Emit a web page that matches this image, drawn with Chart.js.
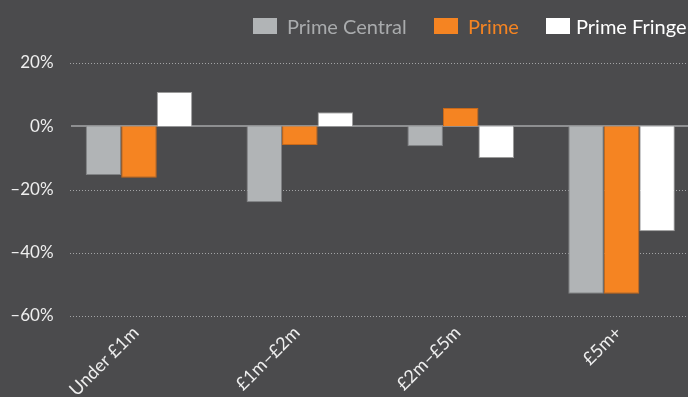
<!DOCTYPE html>
<html>
<head>
<meta charset="utf-8">
<script src="https://cdn.jsdelivr.net/npm/chart.js@4/dist/chart.umd.min.js"></script>
<style>
  html, body { margin: 0; padding: 0; background: #4b4b4d; overflow: hidden; }
  #wrap { position: relative; width: 688px; height: 397px; overflow: hidden; }
  #box { position: absolute; left: 0; top: 0; width: 702px; height: 397px; }
  .leg { position: absolute; top: 0; font: 20px Lato, sans-serif; line-height: 20px; white-space: nowrap; }
  .leg i { position: absolute; top: 18px; width: 24px; height: 16px; }
  .leg span { position: absolute; top: 16px; }
</style>
</head>
<body>
<div id="wrap">
  <div id="box"><canvas id="chart"></canvas></div>
  <div id="legend"></div>
</div>
<script>
// price bands
const bands = ["Under £1m", "£1m–£2m", "£2m–£5m", "£5m+"];

// annual change, %
const primeCentral = [-15.4, -24.0, -6.3, -53.0];
const prime = [-16.3, -5.9, 5.8, -53.0];
const primeFringe = [10.8, 4.4, -10.0, -33.2];

const yTicks = [20, 0, -20, -40, -60];

const seriesNames = ["Prime Central", "Prime", "Prime Fringe"];
const fillColors = ["#b1b4b6", "#f58422", "#ffffff"];
const edgeColors = ["#808284", "#c8691a", "#9a9a9a"];
const textColors = ["#a9abad", "#f58422", "#ffffff"];

// legend at top right
const legendPos = [253, 434, 546];
const legend = document.getElementById("legend");
seriesNames.forEach((name, i) => {
  const d = document.createElement("div");
  d.className = "leg";
  d.style.left = legendPos[i] + "px";
  d.innerHTML = '<i style="background:' + fillColors[i] + '"></i><span style="left:' +
    (name === "Prime Fringe" ? 30 : 34) + 'px;color:' + textColors[i] + '">' + name + '</span>';
  legend.appendChild(d);
});

// dotted gridlines that start a bit right of the axis, and a solid zero line
const gridPlugin = {
  id: "grid",
  beforeDatasetsDraw(chart) {
    const c = chart.ctx;
    const y = chart.scales.y;
    const right = chart.chartArea.right;
    c.save();
    yTicks.forEach(v => {
      const py = Math.round(y.getPixelForValue(v)) + 0.5;
      c.beginPath();
      if (v === 0) {
        c.setLineDash([]);
        c.lineWidth = 2;
        c.strokeStyle = "#8e8f91";
        c.moveTo(71, py - 0.5);
        c.lineTo(right, py - 0.5);
      } else {
        c.setLineDash([1, 2]);
        c.lineWidth = 1;
        c.strokeStyle = "#a3a4a6";
        c.moveTo(70, py);
        c.lineTo(right, py);
      }
      c.stroke();
    });
    c.restore();
  }
};

const ctx = document.getElementById("chart").getContext("2d");

new Chart(ctx, {
  type: "bar",
  data: {
    labels: bands,
    datasets: [primeCentral, prime, primeFringe].map((vals, i) => ({
      label: seriesNames[i],
      data: vals,
      backgroundColor: fillColors[i],
      borderColor: edgeColors[i],
      borderWidth: 1,
      borderSkipped: "start"
    }))
  },
  options: {
    responsive: true,
    maintainAspectRatio: false,
    animation: false,
    layout: { padding: { top: 63, right: 0, left: 0, bottom: 0 } },
    datasets: {
      bar: { categoryPercentage: 0.6625, barPercentage: 1 }
    },
    plugins: {
      legend: { display: false },
      tooltip: { enabled: false }
    },
    scales: {
      x: {
        grid: { display: false, drawTicks: false },
        border: { display: false },
        ticks: {
          color: "#eeeeee",
          font: { family: "Lato", size: 18 },
          minRotation: 45,
          maxRotation: 45,
          padding: 6,
          labelOffset: -3
        },
        afterFit(scale) { scale.height = 81; }
      },
      y: {
        min: -60,
        max: 20,
        grid: { display: false, drawTicks: false },
        border: { display: false },
        afterBuildTicks(scale) {
          scale.ticks = yTicks.map(v => ({ value: v }));
        },
        ticks: {
          color: "#eeeeee",
          font: { family: "Lato", size: 17 },
          padding: 5,
          callback: v => (v < 0 ? "–" + Math.abs(v) : v) + "%"
        },
        afterFit(scale) { scale.width = 58.55; }
      }
    }
  },
  plugins: [gridPlugin]
});
</script>
</body>
</html>
